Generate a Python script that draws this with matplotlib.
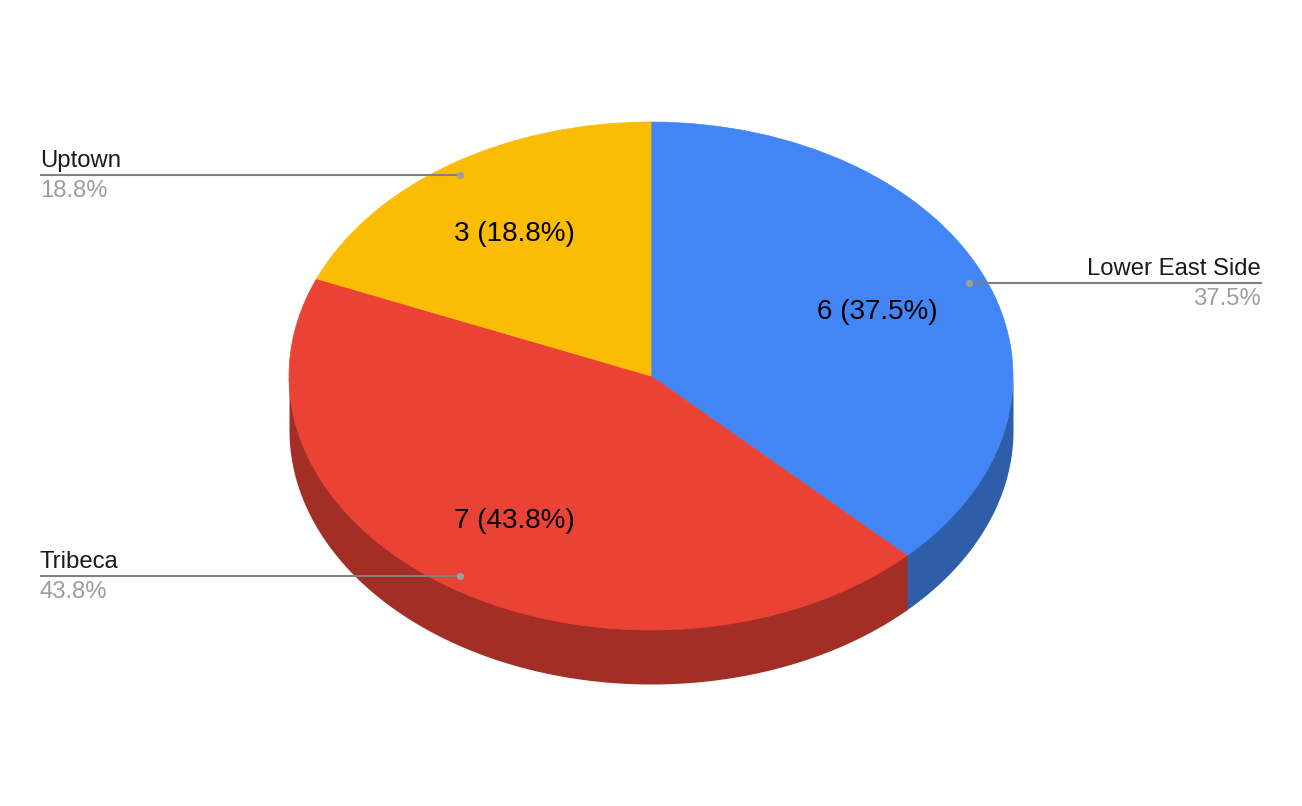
import numpy as np
from matplotlib import pyplot as plt

labels = ["Lower East Side", "Tribeca", "Uptown"]
values = [6, 7, 3]
colors = ["#4285f4", "#ea4335", "#fbbc04"]
side_colors = ["#2e5daa", "#a32e25", "#b08403"]
value_labels = ["6 (37.5%)", "7 (43.8%)", "3 (18.8%)"]
share_labels = ["37.5%", "43.8%", "18.8%"]

W, H = 1302, 806
cx, cy = 651, 376
rx, ry = 362, 254
depth = 54

plt.rcParams['font.family'] = ['Liberation Sans', 'DejaVu Sans']
fig = plt.figure(figsize=(W / 100, H / 100), dpi=100, facecolor="white")

# overlay in pixel coords for texts and leader lines
over = fig.add_axes([0, 0, 1, 1], zorder=3)
over.set_xlim(0, W)
over.set_ylim(H, 0)
over.axis("off")

# pie axes stretched so the unit circle becomes the tilted ellipse
ax = fig.add_axes([(cx - rx) / W, 1 - (cy + ry) / H, 2 * rx / W, 2 * ry / H], zorder=2)
ax.patch.set_alpha(0)

edges = 90 - np.cumsum([0] + values) / sum(values) * 360
d = depth / ry
for i in range(len(values)):
    # each wall runs a little past its end, the next one paints over it
    t = np.radians(np.linspace(edges[i], edges[i + 1] - 0.5, 300))
    y = np.sin(t)
    keep = y <= 0
    if keep.any():
        # top of the wall runs a bit under the pie so no white seam shows
        ax.fill_between(np.cos(t[keep]), y[keep] + 0.02, y[keep] - d, color=side_colors[i], lw=0, clip_on=False)

wedges, _ = ax.pie(values, colors=colors, startangle=90, counterclock=False, radius=1)
for w, c in zip(wedges, colors):
    w.set_edgecolor(c)
    w.set_linewidth(0.5)
    w.set_clip_on(False)
ax.set_aspect("auto")
ax.set_xlim(-1, 1)
ax.set_ylim(-1, 1)

# text placement, one per slice
inside_pos = [(877, 312), (514, 521), (514, 234)]
for i in range(3):
    over.text(inside_pos[i][0], inside_pos[i][1], value_labels[i], fontsize=20,
              color="black", ha="center", va="center")

line_y = [283, 576, 175]
dots = [969, 460, 460]
ends = [1262, 40, 40]
for i in range(3):
    over.plot([dots[i], ends[i]], [line_y[i], line_y[i]], color="#808080", lw=1.5, solid_capstyle="butt")
    over.plot(dots[i], line_y[i], "o", color="#9e9e9e", ms=5.2, mec="none")
    ha = "right" if ends[i] > dots[i] else "left"
    x = ends[i] - 1 if ends[i] > dots[i] else ends[i]
    over.text(x, line_y[i] - 3, labels[i], fontsize=17.2, ha=ha, va="bottom", color="#1a1a1a")
    over.text(x, line_y[i] + 5, share_labels[i], fontsize=17.2, ha=ha, va="top", color="#9e9e9e")

fig.savefig("out.png", dpi=100)
